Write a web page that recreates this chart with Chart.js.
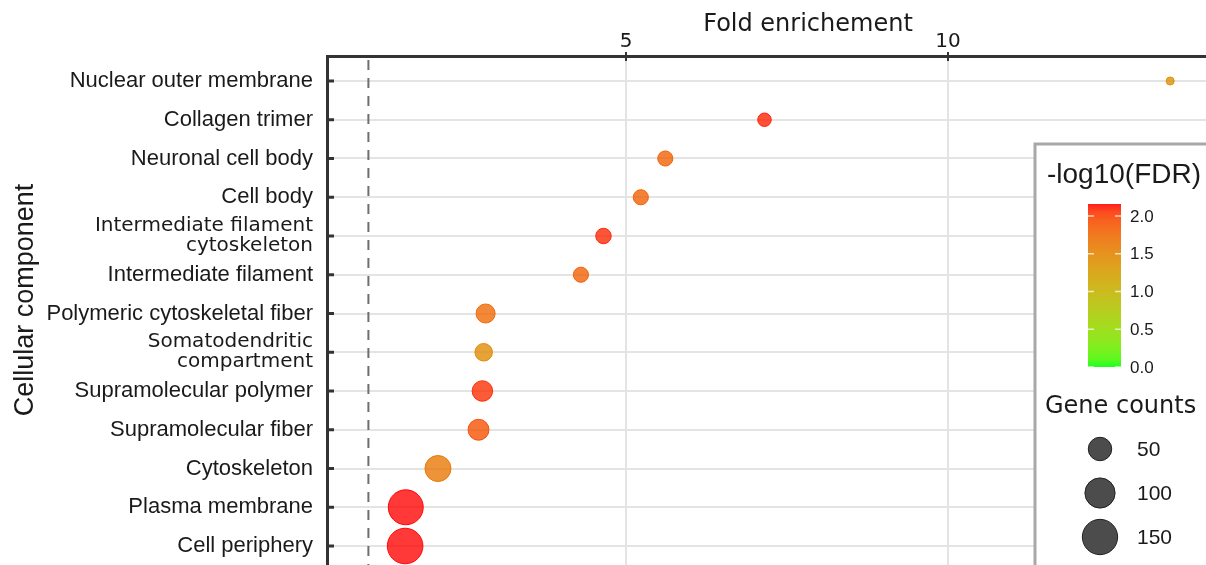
<!DOCTYPE html>
<html>
<head>
<meta charset="utf-8">
<script src="https://cdn.jsdelivr.net/npm/chart.js@4.4.1/dist/chart.umd.min.js"></script>
<style>
  html, body { margin: 0; padding: 0; background: #ffffff; overflow: hidden; }
  #wrap { width: 1206px; height: 565px; }
</style>
</head>
<body>
<div id="wrap"><canvas id="c" width="1206" height="565"></canvas></div>
<script>
// ---- data ----
const categories = [
  "Nuclear outer membrane",
  "Collagen trimer",
  "Neuronal cell body",
  "Cell body",
  ["Intermediate filament", "cytoskeleton"],
  "Intermediate filament",
  "Polymeric cytoskeletal fiber",
  ["Somatodendritic", "compartment"],
  "Supramolecular polymer",
  "Supramolecular fiber",
  "Cytoskeleton",
  "Plasma membrane",
  "Cell periphery"
];
const foldEnrichment = [13.45, 7.15, 5.61, 5.23, 4.65, 4.30, 2.82, 2.79, 2.77, 2.71, 2.08, 1.58, 1.57];
const geneCounts     = [3, 9, 13, 13, 14, 13, 27, 21, 34, 36, 67, 146, 153];
const negLog10FDR    = [1.40, 2.12, 1.82, 1.82, 2.10, 1.82, 1.75, 1.45, 2.08, 1.92, 1.62, 2.16, 2.16];
const xTickValues = [5, 10];
const referenceLine = 1;
const fdrLegendBreaks = [0.0, 0.5, 1.0, 1.5, 2.0];
const countLegendBreaks = [50, 100, 150];
const fdrLimits = [0, 2.16];

// ---- colour scale (Lab interpolation, green -> red) ----
function toLin(c){ c/=255; return c<=0.04045 ? c/12.92 : Math.pow((c+0.055)/1.055, 2.4); }
function toSrgb(v){ v = v<=0.0031308 ? 12.92*v : 1.055*Math.pow(v,1/2.4)-0.055; return Math.round(Math.min(1,Math.max(0,v))*255); }
function rgb2lab(rgb){
  const [r,g,b] = rgb.map(toLin);
  const X=(r*0.4124564+g*0.3575761+b*0.1804375)/0.95047;
  const Y=(r*0.2126729+g*0.7151522+b*0.0721750);
  const Z=(r*0.0193339+g*0.1191920+b*0.9503041)/1.08883;
  const f=t=>t>216/24389?Math.cbrt(t):((24389/27)*t+16)/116;
  const fx=f(X), fy=f(Y), fz=f(Z);
  return [116*fy-16, 500*(fx-fy), 200*(fy-fz)];
}
function lab2rgb(lab){
  const [L,a,b]=lab;
  const fy=(L+16)/116, fx=fy+a/500, fz=fy-b/200;
  const finv=t=>{const t3=t*t*t; return t3>216/24389?t3:(116*t-16)/(24389/27);};
  const X=finv(fx)*0.95047, Y=finv(fy), Z=finv(fz)*1.08883;
  const r= 3.2404542*X-1.5371385*Y-0.4985314*Z;
  const g=-0.9692660*X+1.8760108*Y+0.0415560*Z;
  const bb=0.0556434*X-0.2040259*Y+1.0572252*Z;
  return [toSrgb(r),toSrgb(g),toSrgb(bb)];
}
const labLow = rgb2lab([0,255,0]);
const labHigh = rgb2lab([255,0,0]);
function colorFor(v, alpha){
  const t = Math.min(1, Math.max(0, (v - fdrLimits[0])/(fdrLimits[1]-fdrLimits[0])));
  const lab = labLow.map((l,i)=> l + (labHigh[i]-l)*t);
  const [r,g,b] = lab2rgb(lab);
  return `rgba(${r},${g},${b},${alpha})`;
}
// ---- size scale ----
function radiusFor(n){ return 4 + Math.sqrt(1.27*Math.max(0, n-3)); }

const bubbleData = foldEnrichment.map((f,i)=>({x:f, y:i, r:radiusFor(geneCounts[i])}));

const deco = {
  id: 'deco',
  beforeDatasetsDraw(chart){
    const {ctx, chartArea:a, scales:{x}} = chart;
    const px = x.getPixelForValue(referenceLine);
    ctx.save();
    ctx.setLineDash([10,8]);
    ctx.strokeStyle = '#6e6e6e';
    ctx.lineWidth = 2;
    ctx.beginPath(); ctx.moveTo(px, a.top+4); ctx.lineTo(px, a.bottom); ctx.stroke();
    ctx.restore();
  },
  afterDraw(chart){
    const {ctx, chartArea:a, scales:{x,y}} = chart;
    ctx.save();
    // inward tick marks
    ctx.strokeStyle = '#333'; ctx.lineWidth = 3;
    categories.forEach((c,i)=>{
      const py = y.getPixelForValue(i);
      ctx.beginPath(); ctx.moveTo(a.left, py); ctx.lineTo(a.left+7, py); ctx.stroke();
    });
    ctx.lineWidth = 2;
    xTickValues.forEach(v=>{
      const px = x.getPixelForValue(v);
      ctx.beginPath(); ctx.moveTo(px, a.top-4); ctx.lineTo(px, a.top+5); ctx.stroke();
    });
    // axis titles
    ctx.fillStyle = '#1a1a1a';
    ctx.font = '24px "DejaVu Sans"';
    ctx.textAlign = 'center'; ctx.textBaseline = 'alphabetic';
    ctx.fillText('Fold enrichement', 808, 31);
    ctx.save();
    ctx.translate(33, 300);
    ctx.rotate(-Math.PI/2);
    ctx.font = '27px "Liberation Sans"';
    ctx.fillText('Cellular component', 0, 0);
    ctx.restore();

    // legend box
    const bx = 1035, by = 144;
    ctx.fillStyle = '#ffffff';
    ctx.fillRect(bx, by, 260, 500);
    ctx.strokeStyle = '#a8a8a8'; ctx.lineWidth = 3;
    ctx.strokeRect(bx, by, 260, 500);

    ctx.fillStyle = '#1a1a1a';
    ctx.textAlign = 'left'; ctx.textBaseline = 'alphabetic';
    ctx.font = '28px "Liberation Sans"';
    ctx.fillText('-log10(FDR)', 1047, 183);

    // colour bar
    const barX = 1088, barW = 33, barTop = 204, barBot = 367;
    const pxPerUnit = (barBot - barTop) / (fdrLimits[1]-fdrLimits[0]);
    const grad = ctx.createLinearGradient(0, barBot, 0, barTop);
    for (let k=0;k<=20;k++){
      const v = fdrLimits[0] + (fdrLimits[1]-fdrLimits[0])*k/20;
      grad.addColorStop(k/20, colorFor(v, 0.88));
    }
    ctx.fillStyle = grad;
    ctx.fillRect(barX, barTop, barW, barBot-barTop);
    ctx.strokeStyle = 'rgba(255,255,255,0.7)'; ctx.lineWidth = 1.5;
    ctx.font = '17px "Liberation Sans"';
    ctx.textBaseline = 'middle';
    fdrLegendBreaks.forEach(v=>{
      const py = barBot - (v - fdrLimits[0])*pxPerUnit;
      ctx.beginPath(); ctx.moveTo(barX, py); ctx.lineTo(barX+6, py); ctx.moveTo(barX+barW-6, py); ctx.lineTo(barX+barW, py); ctx.stroke();
      ctx.fillStyle = '#1a1a1a';
      ctx.fillText(v.toFixed(1), 1130, py+1);
    });

    // size legend
    ctx.textBaseline = 'alphabetic';
    ctx.font = '24px "DejaVu Sans"';
    ctx.fillText('Gene counts', 1045, 413);
    const ys = [449, 493, 537];
    ctx.font = '21px "Liberation Sans"';
    ctx.textBaseline = 'middle';
    countLegendBreaks.forEach((n,k)=>{
      ctx.beginPath();
      ctx.arc(1100, ys[k], radiusFor(n), 0, Math.PI*2);
      ctx.fillStyle = 'rgba(45,45,45,0.85)';
      ctx.fill();
      ctx.strokeStyle = '#222'; ctx.lineWidth = 1; ctx.stroke();
      ctx.fillStyle = '#1a1a1a';
      ctx.fillText(String(n), 1137, ys[k]+1);
    });
    ctx.restore();
  }
};

new Chart(document.getElementById('c'), {
  type: 'bubble',
  data: {
    datasets: [{
      data: bubbleData,
      backgroundColor: negLog10FDR.map(v=>colorFor(v, 0.78)),
      borderColor: negLog10FDR.map(v=>colorFor(v, 0.95)),
      borderWidth: 1,
      clip: false
    }]
  },
  options: {
    responsive: false,
    animation: false,
    layout: { padding: 0, autoPadding: false },
    plugins: { legend: { display: false }, tooltip: { enabled: false } },
    scales: {
      x: {
        type: 'linear', position: 'top', min: 0.357, max: 14.006,
        afterBuildTicks: s => { s.ticks = xTickValues.map(v=>({value:v})); },
        afterFit: s => { s.height = 56; s.paddingLeft = 0; s.paddingRight = 0; },
        grid: { color: '#e4e4e4', lineWidth: 2, drawTicks: false },
        border: { display: true, color: '#333', width: 3 },
        ticks: { padding: 2, color: '#1a1a1a', maxRotation: 0, font: { family: 'DejaVu Sans', size: 20 }, callback: v => String(v) }
      },
      y: {
        type: 'linear', reverse: true, min: -0.645, max: 12.49,
        afterBuildTicks: s => { s.ticks = categories.map((c,i)=>({value:i})); },
        afterFit: s => { s.width = 327; s.paddingTop = 0; s.paddingBottom = 0; },
        grid: { color: '#e4e4e4', lineWidth: 2, drawTicks: false },
        border: { display: true, color: '#333', width: 3 },
        ticks: {
          padding: 14, color: '#1a1a1a', autoSkip: false,
          font: ctx => (ctx.tick && Array.isArray(categories[ctx.tick.value]))
            ? { family: 'DejaVu Sans', size: 20, lineHeight: 1.0 }
            : { family: 'Liberation Sans', size: 22 },
          callback: v => categories[v]
        }
      }
    }
  },
  plugins: [deco]
});
</script>
</body>
</html>
